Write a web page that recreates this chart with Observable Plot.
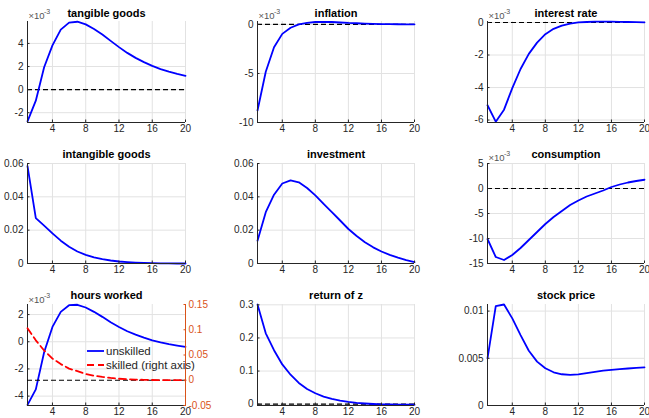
<!DOCTYPE html>
<html><head><meta charset="utf-8">
<script src="https://cdn.jsdelivr.net/npm/d3@7"></script>
<script src="https://cdn.jsdelivr.net/npm/@observablehq/plot@0.6"></script>
<style>
html,body{margin:0;padding:0;background:#fff;}
#chart{position:relative;width:649px;height:418px;overflow:hidden;background:#fff;}
#chart svg{position:absolute;overflow:visible;}
</style></head><body><div id="chart"></div>
<script>
// ---- data (quarters after shock) ----
const periods = [1,2,3,4,5,6,7,8,9,10,11,12,13,14,15,16,17,18,19,20];
const xTicks = [4,8,12,16,20];

// values in units of 1e-3 where the panel shows "x10^-3"
const tangible   = [-2.75,-0.96,1.94,3.83,5.2,5.8,5.88,5.65,5.25,4.78,4.22,3.68,3.18,2.75,2.38,2.05,1.78,1.56,1.36,1.19];
const inflation  = [-8.77,-4.83,-2.33,-0.96,-0.34,0.0,0.15,0.25,0.27,0.25,0.2,0.15,0.12,0.09,0.06,0.04,0.03,0.02,0.01,0.01];
const interest   = [-5.09,-6.1,-5.36,-4.04,-2.86,-1.93,-1.24,-0.72,-0.39,-0.19,-0.07,0.0,0.03,0.05,0.05,0.05,0.04,0.03,0.02,0.01];
const intangible = [0.0584,0.0272,0.0227,0.0181,0.0137,0.0101,0.0072,0.0052,0.0037,0.0026,0.0018,0.0012,0.0008,0.0005,0.0003,0.0002,0.0001,0.0001,0.0,0.0];
const investment = [0.0137,0.0308,0.0413,0.048,0.0499,0.0487,0.0453,0.0409,0.0358,0.0308,0.0258,0.0207,0.0165,0.0128,0.0097,0.0072,0.0052,0.0035,0.002,0.0008];
const consumption= [-10.1,-13.7,-14.3,-13.3,-11.9,-10.3,-8.7,-7.1,-5.7,-4.5,-3.3,-2.4,-1.6,-1.0,-0.4,0.3,0.8,1.2,1.5,1.75];
const hoursUnskilled = [-4.64,-3.5,-0.77,1.09,2.2,2.69,2.72,2.52,2.2,1.83,1.43,1.09,0.77,0.52,0.3,0.1,-0.05,-0.18,-0.28,-0.37];
const hoursSkilled   = [0.103,0.079,0.059,0.043,0.032,0.023,0.018,0.0125,0.009,0.0065,0.0045,0.003,0.002,0.0013,0.0008,0.0005,0.0003,0.0002,0.0001,0.0];
const returnZ    = [0.301,0.214,0.163,0.12,0.089,0.064,0.046,0.033,0.023,0.016,0.011,0.007,0.004,0.002,0.0005,-0.0005,-0.001,-0.0015,-0.0017,-0.0018];
const stockPrice = [0.005,0.01053,0.0107,0.00923,0.00746,0.0058,0.00465,0.00394,0.00352,0.00331,0.00324,0.0033,0.00343,0.00356,0.00369,0.00378,0.00386,0.00392,0.00398,0.00403];

const titles = ["tangible goods","inflation","interest rate","intangible goods","investment","consumption","hours worked","return of z","stock price"];
const legendLabels = ["unskilled","skilled (right axis)"];
const exponentText = ["×10","-3"];

// ---- styling / layout ----
const FONT = '"Liberation Sans", Arial, Helvetica, sans-serif';
const INK = "#262626";
const GRID = "#e2e2e2";
const BLUE = "#0000ff";
const RED = "#ff0000";
const ORANGE = "#D95319";
const mL = 45, mR = 50, mT = 30, mB = 18;
const colX = [{left:27, width:158},{left:257, width:157},{left:487, width:157}];
const rowY = [{top:21, height:101, titleDy:-8.5},{top:163, height:100, titleDy:-9},{top:304, height:101, titleDy:-9.5}];
const chart = document.getElementById("chart");

function place(svg, left, top){
  svg.style.left = (left - mL) + "px";
  svg.style.top = (top - mT) + "px";
  chart.appendChild(svg);
}

function panel(cfg){
  const c = colX[cfg.col], r = rowY[cfg.row];
  const data = periods.map((t,i)=>({t, v: cfg.values[i]}));
  const fmt = d => String(d);
  const marks = [
    Plot.gridX(xTicks, {stroke: GRID, strokeOpacity: 1}),
    Plot.gridY(cfg.yTicks, {stroke: GRID, strokeOpacity: 1}),
  ];
  if (cfg.zero !== false) marks.push(Plot.ruleY([0], {stroke:"#000", strokeWidth:1.2, strokeDasharray:"5,3"}));
  marks.push(
    Plot.line(data, {x:"t", y:"v", stroke: BLUE, strokeWidth: 1.8}),
    Plot.ruleX([periods[0]], {stroke: INK, strokeWidth: 1}),
    Plot.ruleY([cfg.yDomain[0]], {stroke: INK, strokeWidth: 1}),
    Plot.axisX(xTicks, {tickSize: -2.5, stroke: INK, tickPadding: 4.5, tickFormat: fmt, fill: INK, fontSize: 10, label: null}),
    Plot.axisY(cfg.yTicks, {tickSize: -2.5, stroke: INK, tickPadding: 6.5, tickFormat: fmt, fill: INK, fontSize: 10, label: null}),
    Plot.text([cfg.title], {text: d=>d, frameAnchor:"top", lineAnchor:"middle", dy: r.titleDy, fontWeight:"bold", fontSize: 11, fill:"#000"})
  );
  if (cfg.exponent){
    marks.push(
      Plot.text([exponentText[0]], {text: d=>d, frameAnchor:"top-left", textAnchor:"start", lineAnchor:"middle", dx: 1, dy: cfg.expDy ?? -6, fontSize: 9.5, fill: "#555"}),
      Plot.text([exponentText[1]], {text: d=>d, frameAnchor:"top-left", textAnchor:"start", lineAnchor:"middle", dx: 16.5, dy: (cfg.expDy ?? -6) - 4, fontSize: 7, fill: "#555"})
    );
  }
  const svg = Plot.plot({
    width: c.width + mL + mR, height: r.height + mT + mB,
    marginLeft: mL, marginRight: mR, marginTop: mT, marginBottom: mB,
    x: {domain: [periods[0], periods[periods.length-1]], label: null},
    y: {domain: cfg.yDomain, label: null},
    style: {fontFamily: FONT, fontSize: "10px", color: INK, background: "transparent", overflow: "visible"},
    marks
  });
  place(svg, c.left, r.top);
}

panel({col:0,row:0,title:titles[0],values:tangible,yDomain:[-2.85,5.9],yTicks:[-2,0,2,4],exponent:true});
panel({col:1,row:0,title:titles[1],values:inflation,yDomain:[-10,0.3],yTicks:[-10,-5,0],exponent:true});
panel({col:2,row:0,title:titles[2],values:interest,yDomain:[-6.15,0.06],yTicks:[-6,-4,-2,0],exponent:true});
panel({col:0,row:1,title:titles[3],values:intangible,yDomain:[0,0.06],yTicks:[0,0.02,0.04,0.06]});
panel({col:1,row:1,title:titles[4],values:investment,yDomain:[0,0.06],yTicks:[0,0.02,0.04,0.06]});
panel({col:2,row:1,title:titles[5],values:consumption,yDomain:[-15,5],yTicks:[-15,-10,-5,0,5],exponent:true});
panel({col:0,row:2,title:titles[6],values:hoursUnskilled,yDomain:[-4.69,2.74],yTicks:[-4,-2,0,2],exponent:true,zero:false,expDy:-4.5});
panel({col:1,row:2,title:titles[7],values:returnZ,yDomain:[-0.004,0.301],yTicks:[0,0.1,0.2,0.3]});
panel({col:2,row:2,title:titles[8],values:stockPrice,yDomain:[0,0.0107],yTicks:[0,0.005,0.01]});

// right axis of "hours worked"
{
  const c = colX[0], r = rowY[2];
  const data = periods.map((t,i)=>({t, v: hoursSkilled[i]}));
  const rTicks = [-0.05,0,0.05,0.1,0.15];
  const svg = Plot.plot({
    width: c.width + mL + mR, height: r.height + mT + mB,
    marginLeft: mL, marginRight: mR, marginTop: mT, marginBottom: mB,
    x: {domain: [periods[0], periods[periods.length-1]], label: null, axis: null},
    y: {domain: [-0.05,0.15], label: null},
    style: {fontFamily: FONT, fontSize: "10px", background: "transparent", overflow: "visible"},
    marks: [
      Plot.ruleY([0], {stroke:"#000", strokeWidth:1.2, strokeDasharray:"5,3"}),
      Plot.line(data, {x:"t", y:"v", stroke: RED, strokeWidth: 1.8, strokeDasharray:"7,4"}),
      Plot.ruleX([periods[periods.length-1]], {stroke: ORANGE, strokeWidth: 1}),
      Plot.axisY(rTicks, {anchor:"right", tickSize: -2.5, stroke: ORANGE, tickPadding: 5.5, tickFormat: d=>String(d), fill: ORANGE, fontSize: 10, label: null})
    ]
  });
  place(svg, c.left, r.top);

  // legend
  const leg = d3.create("svg").attr("width", 130).attr("height", 32)
    .style("left", "86px").style("top", "343px");
  const rows = [{label: legendLabels[0], stroke: BLUE, dash: null}, {label: legendLabels[1], stroke: RED, dash: "7,4"}];
  rows.forEach((d,i)=>{
    const y = 8 + i*14;
    leg.append("line").attr("x1", 1).attr("x2", 18).attr("y1", y).attr("y2", y)
      .attr("stroke", d.stroke).attr("stroke-width", 1.8).attr("stroke-dasharray", d.dash);
    leg.append("text").attr("x", 20).attr("y", y).attr("dy", "0.35em")
      .attr("font-family", FONT).attr("font-size", 11.5).attr("fill", INK).text(d.label);
  });
  chart.appendChild(leg.node());
}
</script></body></html>
